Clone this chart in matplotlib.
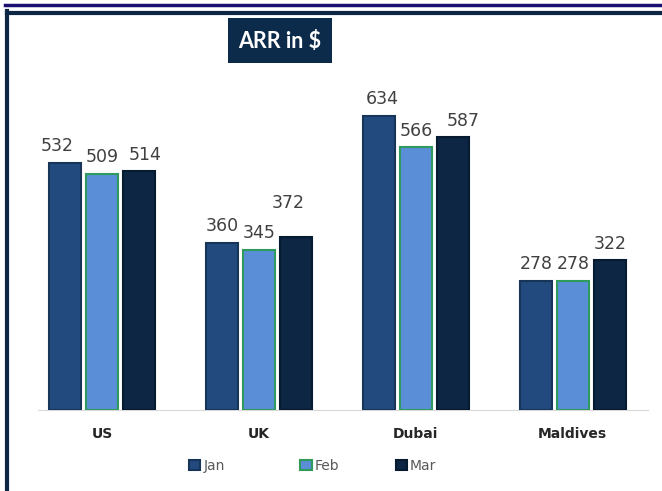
import numpy as np
import matplotlib.pyplot as plt
from matplotlib.patches import Rectangle
from matplotlib.lines import Line2D

# data
cities = ["US", "UK", "Dubai", "Maldives"]
months = ["Jan", "Feb", "Mar"]
jan = [532, 360, 634, 278]
feb = [509, 345, 566, 278]
mar = [514, 372, 587, 322]

colors = ["#234a7e", "#5a8fd8", "#0c2644"]
edges = ["#173559", "#2e9a5c", "#061a30"]

# label nudges in pixels (Excel moved some labels to avoid overlap)
nudge = {(0, 0): (-8, 0), (2, 0): (6, 0), (2, 1): (-8, 18),
         (0, 2): (3, 0), (2, 2): (10, 0)}

fig = plt.figure(figsize=(6.62, 4.91), dpi=100)
ax = fig.add_axes([0.057, 0.165, 0.922, 0.662])

x = np.arange(len(cities))
w = 0.205
step = 0.236
series = [jan, feb, mar]
for i, vals in enumerate(series):
    pos = x + (i - 1) * step
    bars = ax.bar(pos, vals, w, color=colors[i], edgecolor=edges[i],
                  linewidth=1.5, label=months[i], zorder=3)
    for j, (b, v) in enumerate(zip(bars, vals)):
        dx, dy = nudge.get((i, j), (0, 0))
        ax.annotate(str(v), (b.get_x() + b.get_width() / 2, v),
                    xytext=(dx * 0.72, 5.5 + dy * 0.72), textcoords="offset points",
                    ha="center", va="bottom", fontsize=12.5, color="#404040")

ax.set_xlim(-0.41, 3.48)
ax.set_ylim(0, 700)
ax.set_yticks([])
ax.set_xticks(x)
ax.set_xticklabels(cities, fontsize=10, fontweight="bold", color="#262626")
ax.tick_params(axis="x", length=0, pad=12)
for s in ["top", "right", "left"]:
    ax.spines[s].set_visible(False)
ax.spines["bottom"].set_color("#d9d9d9")

# legend, one entry at a time (Excel-like uneven spacing)
leg_x = [207 / 662, 320 / 662, 416 / 662]
for i in range(3):
    h = Rectangle((0, 0), 1, 1, facecolor=colors[i], edgecolor=edges[i], linewidth=1.5)
    fig.legend([h], [months[i]], loc="center", bbox_to_anchor=(leg_x[i], 1 - 466 / 491),
               frameon=False, fontsize=10, handlelength=0.8, handleheight=0.8,
               handletextpad=0.25, labelcolor="#595959")

# frame
fig.add_artist(Line2D([5 / 662, 1], [1 - 5 / 491, 1 - 5 / 491], color="#1c0f72", lw=2.5))
fig.add_artist(Line2D([7 / 662, 1], [1 - 12.5 / 491, 1 - 12.5 / 491], color="#0c2644", lw=3))
fig.add_artist(Line2D([7 / 662, 7 / 662], [0, 1 - 11 / 491], color="#0c2644", lw=3))

# title box
fig.add_artist(Rectangle((228 / 662, 1 - 63 / 491), 104 / 662, 45 / 491,
                         transform=fig.transFigure, facecolor="#0c2a4a", edgecolor="none"))
fig.text(280 / 662, 1 - 41 / 491, "ARR in $", ha="center", va="center", fontsize=15.5,
         fontweight="bold", color="white", family=["Lato", "DejaVu Sans"])

fig.savefig("out.png", dpi=100)
